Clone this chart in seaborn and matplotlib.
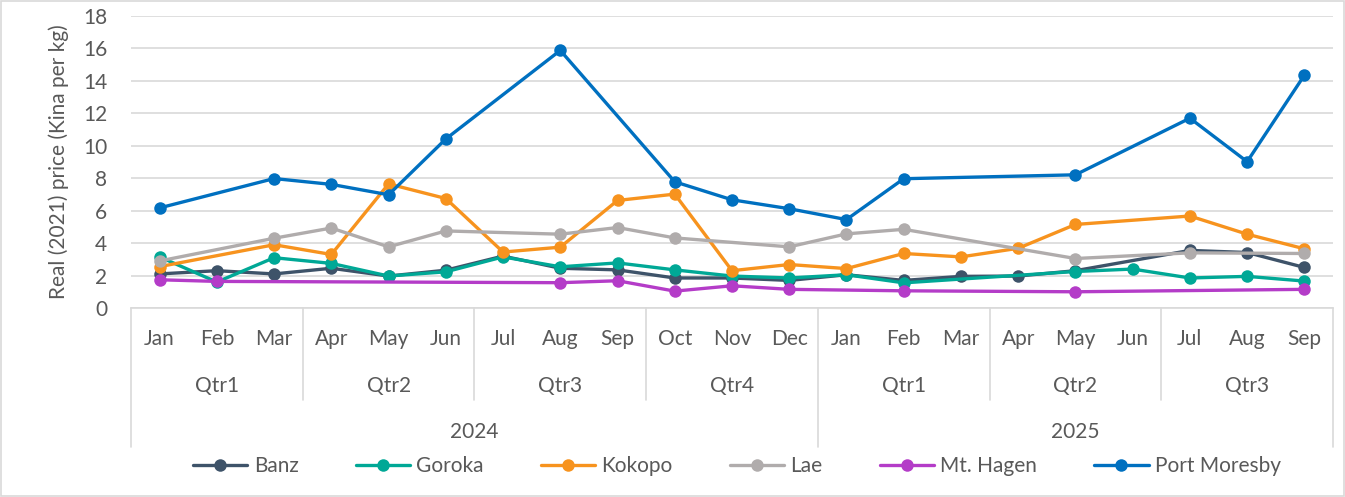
import numpy as np
import pandas as pd
import seaborn as sns
import matplotlib.pyplot as plt
from matplotlib.lines import Line2D
from matplotlib.patches import Rectangle

nan = np.nan

months = ['Jan', 'Feb', 'Mar', 'Apr', 'May', 'Jun', 'Jul', 'Aug', 'Sep', 'Oct', 'Nov', 'Dec',
          'Jan', 'Feb', 'Mar', 'Apr', 'May', 'Jun', 'Jul', 'Aug', 'Sep']
quarters = ['Qtr1', 'Qtr2', 'Qtr3', 'Qtr4', 'Qtr1', 'Qtr2', 'Qtr3']
years = ['2024', '2025']

banz = [2.1, 2.3, 2.1, 2.45, 1.97, 2.33, 3.2, 2.45, 2.35, 1.85, 1.85, 1.7,
        2.05, 1.7, 1.95, 1.97, 2.3, nan, 3.55, 3.42, 2.5]
goroka = [3.15, 1.6, 3.1, 2.75, 1.97, 2.23, 3.15, 2.54, 2.78, 2.35, 1.97, 1.85,
          2.05, 1.55, nan, nan, 2.25, 2.4, 1.85, 1.95, 1.66]
kokopo = [2.55, nan, 3.9, 3.3, 7.65, 6.75, 3.45, 3.75, 6.63, 7.02, 2.3, 2.68,
          2.43, 3.36, 3.15, 3.68, 5.15, nan, 5.67, 4.55, 3.65]
lae = [2.9, nan, 4.3, 4.93, 3.77, 4.75, nan, 4.55, 4.96, 4.32, nan, 3.77,
       4.57, 4.85, nan, nan, 3.05, nan, 3.4, nan, 3.36]
mt_hagen = [1.74, 1.64, nan, nan, nan, nan, nan, 1.56, 1.68, 1.04, 1.37, 1.15,
            nan, 1.06, nan, nan, 1.0, nan, nan, nan, 1.15]
port_moresby = [6.17, nan, 7.98, 7.62, 6.98, 10.42, nan, 15.88, nan, 7.78, 6.67, 6.12,
                5.45, 7.97, nan, nan, 8.21, nan, 11.7, 9.02, 14.35]

markets = ['Banz', 'Goroka', 'Kokopo', 'Lae', 'Mt. Hagen', 'Port Moresby']
colors = ['#3e5369', '#00a896', '#f7931e', '#b0acac', '#b43cc8', '#0070c0']

wide = pd.DataFrame({'Banz': banz, 'Goroka': goroka, 'Kokopo': kokopo, 'Lae': lae,
                     'Mt. Hagen': mt_hagen, 'Port Moresby': port_moresby})
wide['idx'] = range(len(months))
df = wide.melt(id_vars='idx', var_name='market', value_name='price').dropna()

sns.set_style('white')
plt.rcParams['font.family'] = ['Lato', 'DejaVu Sans']
txt = '#595959'
fs = 15
ms = 9

fig = plt.figure(figsize=(13.45, 4.97), dpi=100)
ax = fig.add_axes([131 / 1345, 1 - 308 / 497, (1333 - 131) / 1345, (308 - 16) / 497])

sns.lineplot(data=df, x='idx', y='price', hue='market', hue_order=markets,
             palette=colors, marker='o', markersize=ms, markeredgewidth=0,
             linewidth=2.4, sort=True, legend=False, ax=ax)

ax.set_xlim(-0.5, len(months) - 0.5)
ax.set_ylim(0, 18)
ax.set_yticks(range(0, 19, 2))
ax.yaxis.grid(True, color='#d9d9d9', linewidth=1.2)
ax.set_axisbelow(True)
ax.tick_params(axis='y', length=0, pad=17, labelsize=fs, labelcolor=txt)
ax.set_xticks([])
ax.set_xlabel('')
ax.set_ylabel('Real (2021) price (Kina per kg)', fontsize=fs, color=txt, labelpad=10)
for s in ['top', 'right', 'left']:
    ax.spines[s].set_visible(False)
ax.spines['bottom'].set_color('#d9d9d9')
ax.spines['bottom'].set_linewidth(1.2)

tr = ax.get_xaxis_transform()
# month row
for i, m in enumerate(months):
    ax.text(i, -0.106, m, transform=tr, ha='center', va='center', fontsize=fs, color=txt)
# quarter row
q_bounds = [(0, 2), (3, 5), (6, 8), (9, 11), (12, 14), (15, 17), (18, 20)]
for q, (a, b) in zip(quarters, q_bounds):
    ax.text((a + b) / 2, -0.267, q, transform=tr, ha='center', va='center', fontsize=fs, color=txt)
# year row
for y, (a, b) in zip(years, [(0, 11), (12, 20)]):
    ax.text((a + b) / 2, -0.425, y, transform=tr, ha='center', va='center', fontsize=fs, color=txt)

sep = '#d9d9d9'
for x in [2.5, 5.5, 8.5, 14.5, 17.5]:
    ax.plot([x, x], [0, -0.315], transform=tr, color=sep, lw=1.2, clip_on=False)
for x in [-0.5, 11.5, 20.5]:
    ax.plot([x, x], [0, -0.476], transform=tr, color=sep, lw=1.2, clip_on=False)

handles = [Line2D([0], [0], color=c, lw=2.4, marker='o', markersize=ms, markeredgewidth=0)
           for c in colors]
fig.legend(handles, markets, loc='center', bbox_to_anchor=(0.548, 1 - 466 / 497), ncol=6,
           frameon=False, fontsize=fs, labelcolor=txt, handlelength=2.6,
           handletextpad=0.3, columnspacing=2.75)

fig.patches.append(Rectangle((0.001, 0.002), 0.998, 0.996, transform=fig.transFigure,
                             fill=False, edgecolor='#d9d9d9', linewidth=1.2))

fig.savefig('out.png', dpi=100)
